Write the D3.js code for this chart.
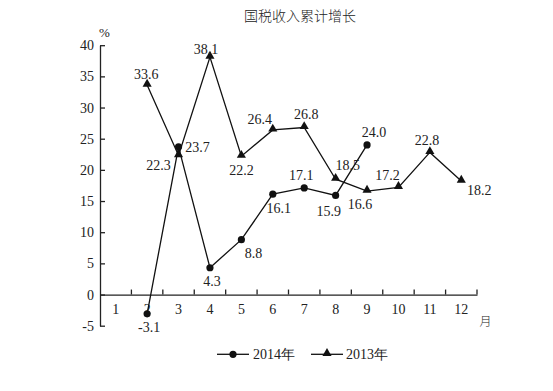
<!DOCTYPE html>
<html><head><meta charset="utf-8">
<script src="https://cdn.jsdelivr.net/npm/d3@7"></script>
<style>body{margin:0;background:#fff}svg{display:block}</style>
</head><body>
<script>
const months = [1,2,3,4,5,6,7,8,9,10,11,12];
const monthLabels = ["1","2","3","4","5","6","7","8","9","10","11","12"];
const yTicks = [-5,0,5,10,15,20,25,30,35,40];
const s2014Months = [2,3,4,5,6,7,8,9];
const s2014Values = [-3.1,23.7,4.3,8.8,16.1,17.1,15.9,24.0];
const s2013Months = [2,3,4,5,6,7,8,9,10,11,12];
const s2013Values = [33.6,22.3,38.1,22.2,26.4,26.8,18.5,16.6,17.2,22.8,18.2];
const title = "国税收入累计增长";
const seriesNames = ["2014年","2013年"];

// label offsets (layout only): [dx, dy] relative to point
const off2014 = [[2,18],[19,5],[2,18],[12,18],[6,19],[-3,-8],[-7,21],[7,-8]];
const off2013 = [[-1,-6],[-20,14],[-4,-3],[0,19],[-13,-6],[2,-8],[12,-9],[-7,18],[-11,-7],[-3,-7],[18,14]];

const W=553,H=391;
const svg=d3.select("body").append("svg").attr("width",W).attr("height",H);
const serif="'Liberation Serif','Times New Roman',serif";
const cjk="'Noto Sans CJK SC',sans-serif";
const x=d3.scaleBand().domain(months).range([100,477]).paddingInner(0).paddingOuter(0);
const y=d3.scaleLinear().domain([-5,40]).range([325.7,45.2]);
const cx=m=>x(m)+x.bandwidth()/2;
const fmt1=v=>v.toFixed(1);

svg.append("text").attr("x",300).attr("y",21).attr("text-anchor","middle")
  .attr("font-family",cjk).attr("font-weight",300).attr("font-size",14).attr("fill","#222").text(title);

// y axis
const ya=svg.append("g").attr("transform","translate(100,0)")
  .call(d3.axisLeft(y).tickValues(yTicks).tickSize(-5).tickSizeOuter(0).tickPadding(6).tickFormat(d=>String(d)));
ya.select(".domain").attr("stroke","#222").attr("stroke-width",1.3);
ya.selectAll(".tick line").attr("stroke","#222").attr("stroke-width",1.3);
ya.selectAll(".tick text").attr("font-family",serif).attr("font-size",14).attr("fill","#222");

// x axis at y=0
const xa=svg.append("g").attr("transform",`translate(0,${y(0)})`)
  .call(d3.axisBottom(x).tickFormat((d,i)=>monthLabels[i]).tickSize(0).tickPadding(10));
xa.select(".domain").attr("stroke","#222").attr("stroke-width",1.3);
xa.selectAll(".tick text").attr("font-family",serif).attr("font-size",14).attr("fill","#222");
const bounds=months.slice(1).map(m=>x(m)).concat([x.range()[1]]);
xa.selectAll(".btick").data(bounds).enter().append("line")
  .attr("x1",d=>d).attr("x2",d=>d).attr("y1",0).attr("y2",-5)
  .attr("stroke","#222").attr("stroke-width",1.3);

svg.append("text").attr("x",104.5).attr("y",37).attr("text-anchor","middle")
  .attr("font-family",serif).attr("font-size",13).attr("fill","#222").text("%");
svg.append("text").attr("x",485.5).attr("y",326).attr("text-anchor","middle")
  .attr("font-family",cjk).attr("font-weight",300).attr("font-size",12).attr("fill","#222").text("月");

const line=d3.line().x(d=>cx(d[0])).y(d=>y(d[1]));
const d14=s2014Months.map((m,i)=>[m,s2014Values[i]]);
const d13=s2013Months.map((m,i)=>[m,s2013Values[i]]);
const tri=d3.symbol().type(d3.symbolTriangle).size(36);

svg.append("path").attr("d",line(d13)).attr("fill","none").attr("stroke","#111").attr("stroke-width",1.3);
svg.append("path").attr("d",line(d14)).attr("fill","none").attr("stroke","#111").attr("stroke-width",1.3);
svg.selectAll(".t13").data(d13).enter().append("path")
  .attr("transform",d=>`translate(${cx(d[0])},${y(d[1])-1})`).attr("d",tri).attr("fill","#111");
svg.selectAll(".c14").data(d14).enter().append("circle")
  .attr("cx",d=>cx(d[0])).attr("cy",d=>y(d[1])).attr("r",3.6).attr("fill","#111");

function labels(data,offs){
  svg.append("g").selectAll("text").data(data).enter().append("text")
    .attr("x",(d,i)=>cx(d[0])+offs[i][0]).attr("y",(d,i)=>y(d[1])+offs[i][1])
    .attr("text-anchor","middle").attr("font-family",serif).attr("font-size",14).attr("fill","#222")
    .text(d=>fmt1(d[1]));
}
labels(d13,off2013);
labels(d14,off2014);

// legend
const lg=svg.append("g");
lg.append("line").attr("x1",217).attr("x2",249).attr("y1",354.3).attr("y2",354.3).attr("stroke","#111").attr("stroke-width",1.3);
lg.append("circle").attr("cx",233).attr("cy",354.3).attr("r",3.6).attr("fill","#111");
lg.append("text").attr("x",253).attr("y",359).attr("font-family",serif).attr("font-size",14).attr("fill","#222").text(seriesNames[0]);
lg.append("line").attr("x1",311).attr("x2",343).attr("y1",354.3).attr("y2",354.3).attr("stroke","#111").attr("stroke-width",1.3);
lg.append("path").attr("transform","translate(327,353.3)").attr("d",tri).attr("fill","#111");
lg.append("text").attr("x",346).attr("y",359).attr("font-family",serif).attr("font-size",14).attr("fill","#222").text(seriesNames[1]);
</script>
</body></html>
